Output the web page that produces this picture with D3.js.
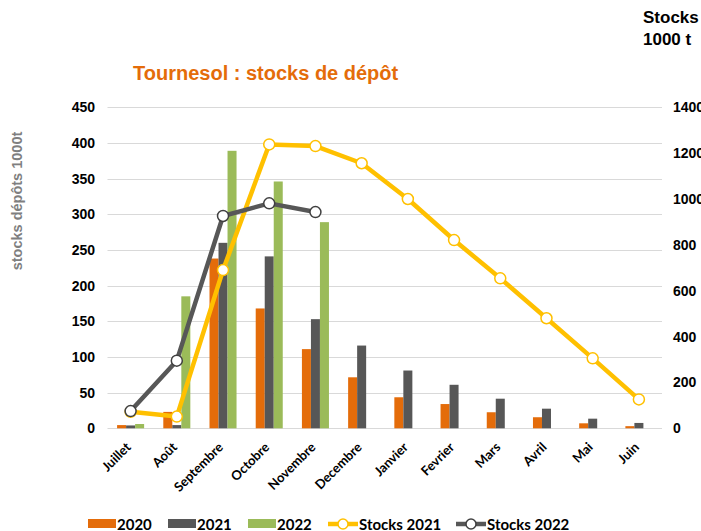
<!DOCTYPE html>
<html>
<head>
<meta charset="utf-8">
<style>
 body { margin: 0; background: #fff; }
 svg { font-family: "Liberation Sans", Arial, sans-serif; display: block; }
 .cat { font-family: Lato, "Open Sans", sans-serif; font-weight: 700; font-size: 13px; fill: #000; }
 .tick-lbl { font-weight: 700; font-size: 14px; fill: #000; }
 .leg { font-family: Lato, "Open Sans", sans-serif; font-weight: 700; font-size: 15px; fill: #000; }
</style>
</head>
<body>
<svg width="701" height="531"></svg>
<script src="https://d3js.org/d3.v7.min.js"></script>
<script>

var months = ["Juillet", "Août", "Septembre", "Octobre", "Novembre", "Decembre",
              "Janvier", "Fevrier", "Mars", "Avril", "Mai", "Juin"];

// bars, stocks depots (1000 t) - left axis
var d2020 = [4.5, 23, 238, 168, 111, 71.5, 43.5, 34, 22.5, 15.5, 7, 3];
var d2021 = [4, 4.5, 260, 241, 153, 116, 81, 61, 41.5, 27.5, 13.5, 7.5];
var d2022 = [6, 185, 389, 346, 289, null, null, null, null, null, null, null];

// lines, stocks (1000 t) - right axis
var stocks2021 = [72, 51, 690, 1238, 1231, 1156, 1000, 821, 654, 480, 305, 126];
var stocks2022 = [75, 295, 926, 981, 943];

var leftTicks = [0, 50, 100, 150, 200, 250, 300, 350, 400, 450];
var rightTicks = [0, 200, 400, 600, 800, 1000, 1200, 1400];

var barSeries = [
    {name: "2020", values: d2020, color: "#e46c0a"},
    {name: "2021", values: d2021, color: "#575757"},
    {name: "2022", values: d2022, color: "#9bbb59"}
];
var lineSeries = [
    {name: "Stocks 2021", values: stocks2021, color: "#ffc000", mark: "#ffc000"},
    {name: "Stocks 2022", values: stocks2022, color: "#575757", mark: "#404040"}
];

var svg = d3.select("svg");
var plotL = 107.5, plotR = 662, plotT = 107.3, plotB = 428.3;

var x0 = d3.scaleBand()
    .domain(months)
    .range([plotL, plotR])
    .paddingInner(0.415)
    .paddingOuter(0.2075);
var x1 = d3.scaleBand()
    .domain(barSeries.map(function(s){ return s.name; }))
    .range([0, x0.bandwidth()]);
var y = d3.scaleLinear().domain([0, 450]).range([plotB, plotT]);
var y2 = d3.scaleLinear().domain([0, 1400]).range([plotB, plotT]);

// gridlines
svg.append("g").selectAll("line")
    .data(leftTicks)
    .enter().append("line")
    .attr("x1", plotL).attr("x2", plotR)
    .attr("y1", function(d){ return Math.round(y(d)) + 0.5; })
    .attr("y2", function(d){ return Math.round(y(d)) + 0.5; })
    .attr("stroke", "#d9d9d9")
    .attr("stroke-width", 1.2);

// left axis
var yAxis = d3.axisLeft(y).tickValues(leftTicks).tickSize(0).tickPadding(0);
var yG = svg.append("g")
    .attr("transform", "translate(95,0)")
    .call(yAxis);
yG.select(".domain").remove();
yG.selectAll("text").attr("class", "tick-lbl").attr("font-family", null).attr("font-size", null);

// right axis
var y2Axis = d3.axisRight(y2).tickValues(rightTicks).tickSize(0).tickPadding(0)
    .tickFormat(d3.format("d"));
var y2G = svg.append("g")
    .attr("transform", "translate(673,0)")
    .call(y2Axis);
y2G.select(".domain").remove();
y2G.selectAll("text").attr("class", "tick-lbl").attr("font-family", null).attr("font-size", null);

// bars
barSeries.forEach(function(s){
    svg.append("g").selectAll("rect")
        .data(s.values.map(function(v, i){ return {m: months[i], v: v}; })
              .filter(function(d){ return d.v != null; }))
        .enter().append("rect")
        .attr("x", function(d){ return x0(d.m) + x1(s.name); })
        .attr("width", x1.bandwidth())
        .attr("y", function(d){ return y(d.v); })
        .attr("height", function(d){ return plotB - y(d.v); })
        .attr("fill", s.color);
});

// lines
var cx = function(i){ return x0(months[i]) + x0.bandwidth() / 2; };
lineSeries.forEach(function(s){
    var line = d3.line()
        .x(function(d, i){ return cx(i); })
        .y(function(d){ return y2(d); });
    svg.append("path")
        .datum(s.values)
        .attr("d", line)
        .attr("fill", "none")
        .attr("stroke", s.color)
        .attr("stroke-width", 4.5)
        .attr("stroke-linejoin", "round");
    svg.append("g").selectAll("circle")
        .data(s.values)
        .enter().append("circle")
        .attr("cx", function(d, i){ return cx(i); })
        .attr("cy", function(d){ return y2(d); })
        .attr("r", 5.5)
        .attr("fill", "#fff")
        .attr("stroke", s.mark)
        .attr("stroke-width", 1.5);
});

// category labels
svg.append("g").selectAll("text")
    .data(months)
    .enter().append("text")
    .attr("class", "cat")
    .attr("text-anchor", "end")
    .attr("transform", function(d){ return "translate(" + (x0(d) + x0.bandwidth() / 2 + 1) + ",448) rotate(-45)"; })
    .text(function(d){ return d; });

// titles
svg.append("text")
    .attr("x", 133).attr("y", 80)
    .attr("font-size", "20px").attr("font-weight", 700)
    .attr("fill", "#e46c0a")
    .text("Tournesol : stocks de dépôt");
svg.append("text")
    .attr("x", 643).attr("y", 23)
    .attr("font-size", "17px").attr("font-weight", 700)
    .text("Stocks");
svg.append("text")
    .attr("x", 643).attr("y", 45)
    .attr("font-size", "17px").attr("font-weight", 700)
    .text("1000 t");
svg.append("text")
    .attr("transform", "translate(22,201) rotate(-90)")
    .attr("text-anchor", "middle")
    .attr("font-size", "14.5px").attr("font-weight", 700)
    .attr("fill", "#7f7f7f")
    .text("stocks dépôts 1000t");

// legend
var legY = 524;
var legBars = [88, 168, 248];
barSeries.forEach(function(s, i){
    svg.append("rect")
        .attr("x", legBars[i]).attr("y", legY - 5)
        .attr("width", 28).attr("height", 9)
        .attr("fill", s.color);
    svg.append("text")
        .attr("class", "leg")
        .attr("x", legBars[i] + 29).attr("y", legY + 6)
        .text(s.name);
});
var legLines = [328, 456];
lineSeries.forEach(function(s, i){
    svg.append("line")
        .attr("x1", legLines[i]).attr("x2", legLines[i] + 30)
        .attr("y1", legY).attr("y2", legY)
        .attr("stroke", s.color).attr("stroke-width", 4.5);
    svg.append("circle")
        .attr("cx", legLines[i] + 15).attr("cy", legY)
        .attr("r", 5).attr("fill", "#fff")
        .attr("stroke", s.mark).attr("stroke-width", 1.5);
    svg.append("text")
        .attr("class", "leg")
        .attr("x", legLines[i] + 31).attr("y", legY + 6)
        .text(s.name);
});
</script>
</body>
</html>
